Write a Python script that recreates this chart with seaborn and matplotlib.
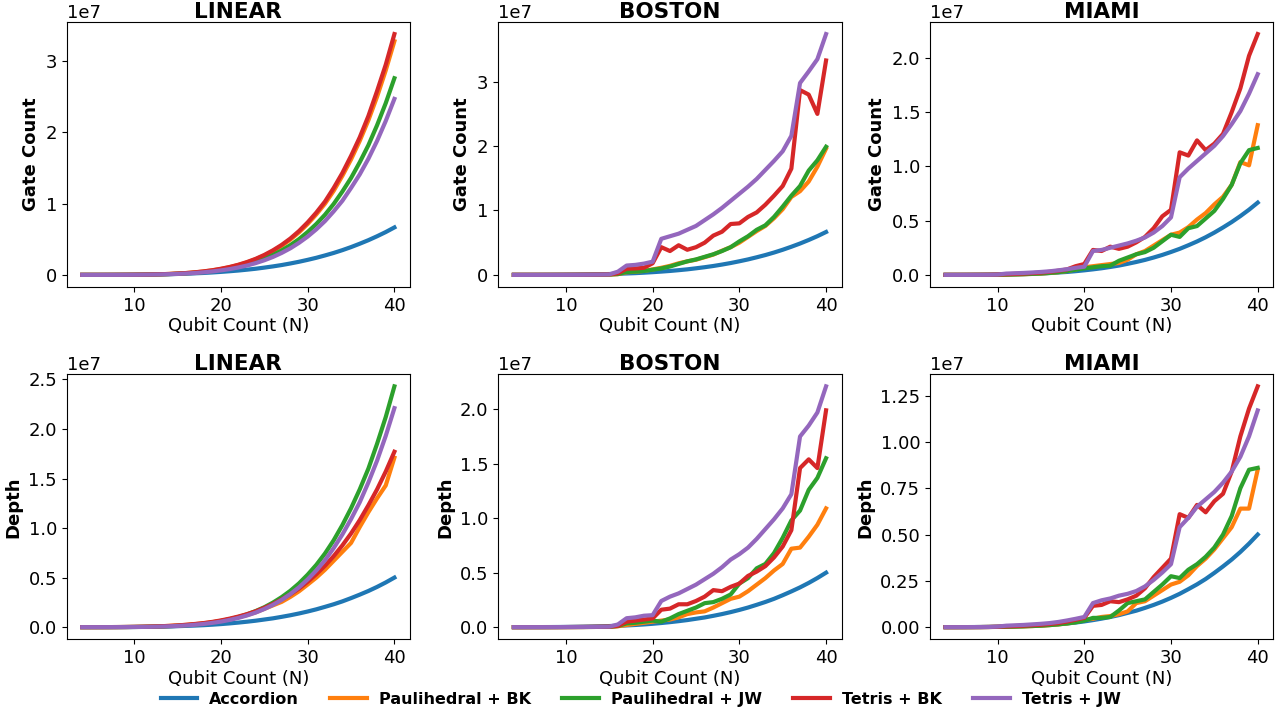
import matplotlib.pyplot as plt
import numpy as np
import pandas as pd
import seaborn as sns

# qubit counts
N = list(range(4, 41))

METHODS = ["Accordion", "Paulihedral + BK", "Paulihedral + JW", "Tetris + BK", "Tetris + JW"]
TOPOLOGIES = ["LINEAR", "BOSTON", "MIAMI"]

# all values in millions
acc_gate = [0.0007, 0.0016, 0.0034, 0.0062, 0.011, 0.017, 0.026, 0.038, 0.054, 0.074,
            0.10, 0.13, 0.17, 0.22, 0.27, 0.34, 0.42, 0.51, 0.61, 0.73,
            0.86, 1.02, 1.19, 1.38, 1.60, 1.84, 2.11, 2.40, 2.73, 3.08,
            3.47, 3.90, 4.37, 4.87, 5.42, 6.01, 6.66]
acc_depth = [0.0005, 0.0012, 0.0025, 0.0047, 0.008, 0.013, 0.020, 0.029, 0.040, 0.056,
             0.075, 0.10, 0.13, 0.16, 0.20, 0.25, 0.31, 0.38, 0.46, 0.55,
             0.65, 0.77, 0.89, 1.04, 1.20, 1.38, 1.58, 1.80, 2.05, 2.31,
             2.60, 2.93, 3.28, 3.65, 4.06, 4.51, 5.00]

# ---- LINEAR ----
lin_gate_pbk = [0.0002, 0.0005, 0.0014, 0.0032, 0.0065, 0.012, 0.021, 0.035, 0.055, 0.085,
                0.126, 0.18, 0.255, 0.35, 0.475, 0.63, 0.83, 1.08, 1.38, 1.75,
                2.19, 2.72, 3.35, 4.08, 4.95, 5.97, 7.15, 8.5, 10.0, 11.8,
                13.9, 16.2, 18.8, 21.7, 25.0, 28.7, 32.8]
lin_gate_pjw = [0.0001, 0.0004, 0.0012, 0.0027, 0.0054, 0.010, 0.018, 0.030, 0.047, 0.071,
                0.106, 0.152, 0.215, 0.295, 0.40, 0.53, 0.70, 0.91, 1.16, 1.47,
                1.84, 2.29, 2.82, 3.44, 4.17, 5.02, 6.02, 7.15, 8.45, 9.96,
                11.7, 13.6, 15.8, 18.2, 21.0, 24.1, 27.6]
lin_gate_tbk = [0.0002, 0.0005, 0.0015, 0.0033, 0.0067, 0.0125, 0.022, 0.036, 0.057, 0.088,
                0.13, 0.19, 0.26, 0.36, 0.49, 0.65, 0.86, 1.11, 1.42, 1.80,
                2.25, 2.80, 3.45, 4.21, 5.10, 6.15, 7.37, 8.75, 10.3, 12.2,
                14.3, 16.7, 19.3, 22.3, 25.8, 29.5, 33.8]
lin_gate_tjw = [0.0001, 0.0004, 0.0011, 0.0024, 0.0049, 0.009, 0.016, 0.026, 0.042, 0.064,
                0.095, 0.136, 0.19, 0.26, 0.36, 0.48, 0.63, 0.81, 1.04, 1.31,
                1.65, 2.05, 2.52, 3.08, 3.73, 4.50, 5.38, 6.40, 7.56, 8.92,
                10.4, 12.2, 14.1, 16.3, 18.8, 21.6, 24.7]

lin_depth_pbk = [0.0003, 0.001, 0.0023, 0.0047, 0.0089, 0.015, 0.025, 0.040, 0.060, 0.087,
                 0.123, 0.17, 0.23, 0.30, 0.39, 0.50, 0.64, 0.80, 1.00, 1.22,
                 1.50, 1.85, 2.20, 2.55, 3.05, 3.62, 4.30, 5.0, 5.8, 6.7,
                 7.6, 8.5, 10.1, 11.6, 13.0, 14.3, 17.1]
lin_depth_pjw = [0.0001, 0.0004, 0.001, 0.0024, 0.0048, 0.009, 0.016, 0.026, 0.041, 0.063,
                 0.093, 0.134, 0.19, 0.26, 0.35, 0.47, 0.62, 0.80, 1.02, 1.29,
                 1.62, 2.01, 2.48, 3.03, 3.67, 4.42, 5.30, 6.29, 7.44, 8.77,
                 10.3, 12.0, 13.9, 16.0, 18.5, 21.2, 24.3]
lin_depth_tbk = [0.0004, 0.001, 0.0024, 0.0049, 0.0092, 0.016, 0.026, 0.041, 0.062, 0.090,
                 0.127, 0.176, 0.24, 0.32, 0.41, 0.53, 0.68, 0.86, 1.07, 1.31,
                 1.60, 1.95, 2.34, 2.80, 3.31, 3.89, 4.58, 5.35, 6.20, 7.17,
                 8.25, 9.45, 10.8, 12.3, 13.9, 15.7, 17.7]
lin_depth_tjw = [0.0001, 0.0004, 0.001, 0.0021, 0.0044, 0.008, 0.014, 0.024, 0.037, 0.057,
                 0.085, 0.122, 0.17, 0.24, 0.32, 0.43, 0.56, 0.73, 0.93, 1.18,
                 1.47, 1.83, 2.25, 2.75, 3.34, 4.02, 4.82, 5.72, 6.76, 7.98,
                 9.35, 10.9, 12.6, 14.6, 16.8, 19.3, 22.1]

# ---- BOSTON ----
bos_gate_pbk = [0.0003, 0.0006, 0.001, 0.002, 0.003, 0.005, 0.008, 0.012, 0.018, 0.026,
                0.036, 0.05, 0.12, 0.40, 0.50, 0.62, 0.85, 1.10, 1.40, 1.80,
                2.10, 2.35, 2.75, 3.15, 3.75, 4.30, 5.00, 5.90, 6.80, 7.60,
                8.80, 10.2, 12.1, 13.0, 14.5, 16.8, 19.6]
bos_gate_pjw = [0.0003, 0.0006, 0.001, 0.002, 0.003, 0.005, 0.008, 0.012, 0.018, 0.026,
                0.036, 0.05, 0.12, 0.45, 0.50, 0.60, 0.80, 1.00, 1.30, 1.70,
                2.10, 2.40, 2.80, 3.20, 3.70, 4.30, 5.20, 6.00, 7.00, 7.70,
                9.00, 10.6, 12.3, 13.8, 16.2, 17.8, 19.9]
bos_gate_tbk = [0.0003, 0.0007, 0.0012, 0.0022, 0.0035, 0.0055, 0.009, 0.014, 0.02, 0.03,
                0.045, 0.07, 0.25, 0.95, 1.00, 1.10, 1.80, 4.30, 3.70, 4.60,
                3.90, 4.30, 5.00, 6.10, 6.70, 7.90, 8.00, 9.00, 9.70, 10.9,
                12.3, 13.8, 16.5, 28.7, 28.0, 25.0, 33.3]
bos_gate_tjw = [0.0003, 0.0007, 0.0012, 0.0022, 0.0035, 0.0055, 0.009, 0.014, 0.02, 0.03,
                0.045, 0.07, 0.5, 1.45, 1.55, 1.75, 2.05, 5.60, 6.00, 6.40,
                7.00, 7.60, 8.50, 9.40, 10.4, 11.5, 12.6, 13.7, 14.9, 16.3,
                17.7, 19.2, 21.6, 29.8, 31.6, 33.5, 37.4]

bos_depth_pbk = [0.0002, 0.0005, 0.001, 0.0015, 0.0025, 0.004, 0.006, 0.009, 0.013, 0.018,
                 0.025, 0.035, 0.08, 0.20, 0.30, 0.40, 0.50, 0.60, 0.70, 0.90,
                 1.20, 1.35, 1.45, 1.80, 2.20, 2.60, 2.80, 3.30, 3.90, 4.50,
                 5.20, 5.80, 7.20, 7.30, 8.30, 9.40, 10.9]
bos_depth_pjw = [0.0002, 0.0005, 0.001, 0.0015, 0.0025, 0.004, 0.006, 0.009, 0.013, 0.018,
                 0.025, 0.035, 0.10, 0.35, 0.40, 0.50, 0.60, 0.50, 0.80, 1.20,
                 1.50, 1.80, 2.20, 2.30, 2.60, 3.00, 4.00, 4.50, 5.40, 5.80,
                 6.80, 8.20, 9.80, 10.7, 12.6, 13.7, 15.5]
bos_depth_tbk = [0.0002, 0.0005, 0.001, 0.0018, 0.003, 0.005, 0.008, 0.012, 0.017, 0.024,
                 0.033, 0.045, 0.12, 0.50, 0.60, 0.70, 0.80, 1.60, 1.70, 2.10,
                 2.10, 2.40, 2.80, 3.40, 3.30, 3.70, 4.00, 4.70, 5.10, 5.60,
                 6.40, 7.40, 8.90, 14.6, 15.4, 14.6, 19.9]
bos_depth_tjw = [0.0002, 0.0005, 0.001, 0.0018, 0.003, 0.005, 0.008, 0.012, 0.017, 0.024,
                 0.033, 0.045, 0.25, 0.82, 0.90, 1.05, 1.10, 2.40, 2.80, 3.10,
                 3.50, 3.90, 4.40, 4.90, 5.50, 6.20, 6.70, 7.30, 8.10, 9.00,
                 9.90, 10.9, 12.2, 17.5, 18.5, 19.7, 22.1]

# ---- MIAMI ----
mia_gate_pbk = [0.0005, 0.001, 0.002, 0.004, 0.007, 0.012, 0.02, 0.03, 0.045, 0.065,
                0.09, 0.13, 0.18, 0.25, 0.35, 0.50, 0.70, 0.80, 0.90, 1.00,
                1.10, 1.40, 1.90, 2.20, 2.70, 3.20, 3.70, 3.90, 4.40, 5.10,
                5.70, 6.50, 7.20, 8.30, 10.4, 10.1, 13.8]
mia_gate_pjw = [0.0005, 0.001, 0.002, 0.004, 0.007, 0.012, 0.02, 0.03, 0.045, 0.065,
                0.09, 0.13, 0.18, 0.25, 0.35, 0.48, 0.60, 0.70, 0.80, 0.85,
                1.30, 1.60, 1.90, 2.10, 2.50, 3.10, 3.70, 3.50, 4.30, 4.50,
                5.20, 5.90, 7.00, 8.30, 10.3, 11.5, 11.7]
mia_gate_tbk = [0.0005, 0.001, 0.002, 0.004, 0.007, 0.012, 0.03, 0.06, 0.09, 0.12,
                0.16, 0.21, 0.28, 0.38, 0.50, 0.80, 1.00, 2.30, 2.20, 2.60,
                2.40, 2.60, 3.00, 3.50, 4.30, 5.40, 6.00, 11.3, 11.0, 12.4,
                11.5, 12.1, 13.0, 15.0, 17.2, 20.2, 22.2]
mia_gate_tjw = [0.0005, 0.001, 0.002, 0.004, 0.007, 0.012, 0.03, 0.12, 0.15, 0.18,
                0.22, 0.27, 0.33, 0.42, 0.52, 0.65, 0.75, 2.20, 2.30, 2.50,
                2.70, 2.90, 3.15, 3.45, 3.90, 4.50, 5.30, 9.00, 9.80, 10.5,
                11.2, 11.9, 12.8, 13.9, 15.1, 16.7, 18.5]

mia_depth_pbk = [0.0003, 0.0007, 0.0015, 0.003, 0.005, 0.009, 0.015, 0.022, 0.032, 0.045,
                 0.06, 0.08, 0.11, 0.15, 0.20, 0.28, 0.40, 0.45, 0.55, 0.60,
                 0.70, 0.85, 1.30, 1.40, 1.70, 2.00, 2.30, 2.45, 2.80, 3.30,
                 3.70, 4.20, 4.80, 5.40, 6.40, 6.40, 8.50]
mia_depth_pjw = [0.0003, 0.0007, 0.0015, 0.003, 0.005, 0.009, 0.015, 0.022, 0.032, 0.045,
                 0.06, 0.08, 0.11, 0.15, 0.20, 0.26, 0.35, 0.50, 0.50, 0.55,
                 0.90, 1.30, 1.40, 1.50, 1.90, 2.30, 2.75, 2.65, 3.10, 3.40,
                 3.80, 4.30, 5.00, 6.00, 7.50, 8.50, 8.60]
mia_depth_tbk = [0.0003, 0.0007, 0.0015, 0.003, 0.005, 0.009, 0.02, 0.04, 0.06, 0.08,
                 0.10, 0.13, 0.17, 0.22, 0.30, 0.40, 0.50, 1.15, 1.20, 1.40,
                 1.35, 1.50, 1.70, 2.10, 2.70, 3.20, 3.70, 6.10, 5.90, 6.60,
                 6.20, 6.80, 7.20, 8.40, 10.3, 11.8, 13.0]
mia_depth_tjw = [0.0003, 0.0007, 0.0015, 0.003, 0.005, 0.009, 0.03, 0.08, 0.10, 0.12,
                 0.15, 0.18, 0.22, 0.28, 0.36, 0.45, 0.55, 1.30, 1.45, 1.55,
                 1.70, 1.80, 1.95, 2.20, 2.55, 2.95, 3.40, 5.40, 5.90, 6.50,
                 6.90, 7.30, 7.80, 8.40, 9.20, 10.3, 11.7]


def make_frame(series):
    rows = []
    for method, vals in zip(METHODS, series):
        for n, v in zip(N, vals):
            rows.append([n, v * 1e6, method])
    return pd.DataFrame(rows, columns=["N", "value", "method"])


panels = [
    ("LINEAR", "Gate Count", [acc_gate, lin_gate_pbk, lin_gate_pjw, lin_gate_tbk, lin_gate_tjw]),
    ("BOSTON", "Gate Count", [acc_gate, bos_gate_pbk, bos_gate_pjw, bos_gate_tbk, bos_gate_tjw]),
    ("MIAMI", "Gate Count", [acc_gate, mia_gate_pbk, mia_gate_pjw, mia_gate_tbk, mia_gate_tjw]),
    ("LINEAR", "Depth", [acc_depth, lin_depth_pbk, lin_depth_pjw, lin_depth_tbk, lin_depth_tjw]),
    ("BOSTON", "Depth", [acc_depth, bos_depth_pbk, bos_depth_pjw, bos_depth_tbk, bos_depth_tjw]),
    ("MIAMI", "Depth", [acc_depth, mia_depth_pbk, mia_depth_pjw, mia_depth_tbk, mia_depth_tjw]),
]

plt.rcParams['font.size'] = 13
colors = sns.color_palette("tab10", 5)

fig, axes = plt.subplots(2, 3, figsize=(12.81, 7.11), dpi=100)
fig.subplots_adjust(left=0.052, right=0.994, top=0.969, bottom=0.101, wspace=0.257, hspace=0.33)

for ax, (topo, ylab, series) in zip(axes.flat, panels):
    df = make_frame(series)
    sns.lineplot(data=df, x="N", y="value", hue="method", hue_order=METHODS,
                 palette=colors, linewidth=3, ax=ax, legend=False)
    ax.set_title(topo, fontsize=15.5, fontweight="bold", pad=3)
    ax.set_ylabel(ylab, fontweight="bold")
    ax.set_xlabel("Qubit Count (N)", labelpad=2)
    ax.set_xticks([10, 20, 30, 40])

handles = axes[0, 0].get_lines()[:5]
fig.legend(handles, METHODS, loc="lower center", ncol=5, frameon=False,
           bbox_to_anchor=(0.5, -0.014), handlelength=2.3, handletextpad=0.75,
           columnspacing=1.95, prop={"weight": "bold", "size": 11.5})

plt.savefig("out.png", dpi=100)
